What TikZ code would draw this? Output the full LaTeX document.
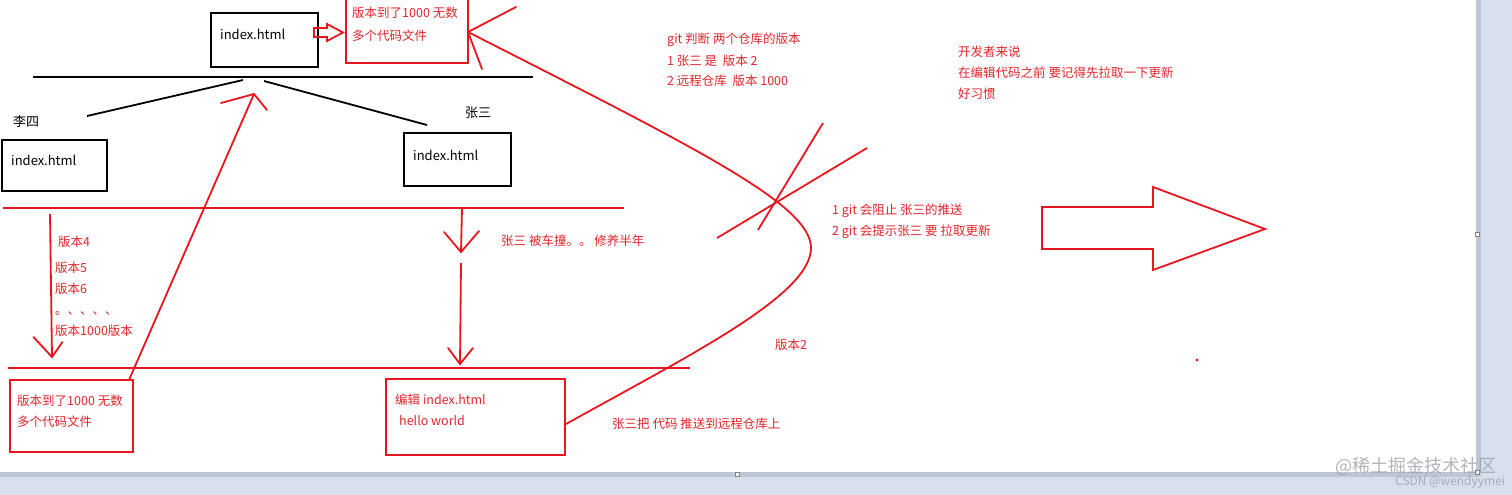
\documentclass[tikz,border=0pt]{standalone}
\usepackage{fontspec}
\setmainfont{Noto Sans CJK SC}
\definecolor{pred}{RGB}{232,22,30}
\definecolor{tred}{RGB}{226,38,42}
\definecolor{bgc}{RGB}{214,223,235}
\definecolor{shadowc}{RGB}{188,198,212}
\definecolor{wmc}{RGB}{150,156,166}
\begin{document}
\begin{tikzpicture}[x=1pt,y=-1pt,
  rl/.style={draw=pred, line width=1.8pt},
  kl/.style={draw=black, line width=1.8pt},
  kbox/.style={draw=black, line width=2pt, rectangle, inner sep=0pt},
  rbox/.style={draw=pred, line width=2pt, rectangle, inner sep=0pt},
  rtext/.style={text=tred, font=\fontsize{12.5}{14}\selectfont, anchor=west, inner sep=0pt},
  ktext/.style={text=black, font=\fontsize{13}{15}\selectfont, anchor=west, inner sep=0pt},
  wm/.style={text=wmc, anchor=west, inner sep=0pt, opacity=0.75}]
\useasboundingbox (0,0) rectangle (1512,495);
% canvas
\fill[bgc] (0,0) rectangle (1512,495);
\fill[shadowc] (0,472) rectangle (1481,477);
\fill[shadowc] (1476,0) rectangle (1481,477);
\fill[white] (0,0) rectangle (1476,472);
\begin{scope}
\clip (0,0) rectangle (1476,472);
% boxes
\node[kbox, minimum width=107pt, minimum height=54pt] (topbox) at (264.5,40) {};
\node[rbox, minimum width=122pt, minimum height=70pt] (remote) at (407,28) {};
\node[kbox, minimum width=105pt, minimum height=51pt] (lisi) at (54.5,165.5) {};
\node[kbox, minimum width=107pt, minimum height=53pt] (zhang) at (457.5,159.5) {};
\node[rbox, minimum width=123pt, minimum height=72pt] (lisiv) at (71.5,416) {};
\node[rbox, minimum width=179pt, minimum height=76pt] (edit) at (475.5,417) {};
% texts
\node[ktext] (t1) at (220,34) {index.html};
\node[ktext] (t2) at (11,160) {index.html};
\node[ktext] (t3) at (413,155) {index.html};
\node[ktext] (n1) at (13,122) {李四};
\node[ktext] (n2) at (465,113) {张三};
\node[rtext] (r1) at (352,13) {版本到了1000 无数};
\node[rtext] (r2) at (352,36) {多个代码文件};
\node[rtext] (b1) at (17,401) {版本到了1000 无数};
\node[rtext] (b2) at (17,422) {多个代码文件};
\node[rtext] (e1) at (395,400) {编辑 index.html};
\node[rtext] (e2) at (399,421) {hello world};
\node[rtext] (v4) at (58,242) {版本4};
\node[rtext] (v5) at (55,268) {版本5};
\node[rtext] (v6) at (55,289) {版本6};
\node[rtext] (vd) at (55,313) {。、、、、};
\node[rtext] (v1000) at (55,331) {版本1000版本};
\node[rtext] (acc) at (501,241) {张三 被车撞。。 修养半年};
\node[rtext] (g1) at (667,40) {git 判断 两个仓库的版本};
\node[rtext] (g2) at (667,61) {1 张三 是\ \ 版本 2};
\node[rtext] (g3) at (667,81) {2 远程仓库\ \ 版本 1000};
\node[rtext] (d1) at (958,52) {开发者来说};
\node[rtext] (d2) at (958,73) {在编辑代码之前 要记得先拉取一下更新};
\node[rtext] (d3) at (958,94) {好习惯};
\node[rtext] (s1) at (832,211) {1 git 会阻止 张三的推送};
\node[rtext] (s2) at (832,232) {2 git 会提示张三 要 拉取更新};
\node[rtext] (ver2) at (775,345) {版本2};
\node[rtext] (push) at (612,424) {张三把 代码 推送到远程仓库上};
% coordinates
\coordinate (repoL) at (33,77);
\coordinate (repoR) at (533,77);
\coordinate (fork) at (243,80);
\coordinate (fork2) at (264,81);
\coordinate (lisiTop) at (87,116);
\coordinate (zhangTop) at (427,125);
\coordinate (lineAL) at (3,208);
\coordinate (lineAR) at (624,208);
\coordinate (lineBL) at (8,368);
\coordinate (lineBR) at (690,368);
\coordinate (upTip) at (254,94);
\coordinate (upStart) at (129,380);
\coordinate (pushEnd) at (468,32);
\coordinate (pushStart) at (566,424);
\coordinate (bend) at (811,248);
% black lines
\draw[kl] (repoL) -- (repoR);
\draw[kl] (fork) -- (lisiTop);
\draw[kl] (fork2) -- (zhangTop);
% red horizontal lines
\draw[rl] (lineAL) -- (lineAR);
\draw[rl] (lineBL) -- (lineBR);
% left down arrow
\coordinate (ldTop) at (50,214);
\coordinate (ldTip) at (52,357);
\draw[rl] (ldTop) -- (ldTip);
\draw[rl, line cap=round] (33.5,337) -- (ldTip) -- (62.5,342);
% middle arrows
\coordinate (m1Top) at (462,208);
\coordinate (m1Tip) at (461,252);
\draw[rl] (m1Top) -- (m1Tip);
\draw[rl, line cap=round] (444,232) -- (m1Tip) -- (479,231);
\coordinate (m2Top) at (461,263);
\coordinate (m2Tip) at (460,364);
\draw[rl] (m2Top) -- (m2Tip);
\draw[rl, line cap=round] (448,348) -- (m2Tip) -- (473,348);
% up arrow
\draw[rl] (upStart) -- (upTip);
\draw[rl, line cap=round] (221,103) -- (upTip) -- (267,110);
% push curve
\draw[rl] (pushStart) .. controls (690,355) and (811,295) .. (bend)
  .. controls (811,205) and (700,150) .. (pushEnd);
\draw[rl, line cap=round] (516,7) -- (pushEnd) -- (482,69);
% cross
\draw[rl] (823,123) -- (758,230);
\draw[rl] (867,148) -- (717,238);
% hollow arrows
\draw[rl, line join=miter] (314,28) -- (327,28) -- (327,24) -- (343,32.5) -- (327,41) -- (327,37) -- (314,37) -- cycle;
\draw[rl, line join=miter] (1042,207) -- (1153,207) -- (1153,187) -- (1265,229) -- (1153,270) -- (1153,249) -- (1042,249) -- cycle;
% dot
\fill[pred] (1197,360) circle (1.6);
\end{scope}
% handles
\draw[gray, fill=white, line width=0.6pt] (1475,232) rectangle (1479,236);
\draw[gray, fill=white, line width=0.6pt] (735,472) rectangle (739,476);
\draw[gray, fill=white, line width=0.6pt] (1475,470) rectangle (1479,474);
% watermark
\node[wm, font=\fontsize{18}{20}\selectfont] (wm1) at (1335,466) {@稀土掘金技术社区};
\node[wm, font=\fontsize{12}{14}\selectfont] (wm2) at (1395,482) {CSDN @wendyymei};
\end{tikzpicture}
\end{document}
